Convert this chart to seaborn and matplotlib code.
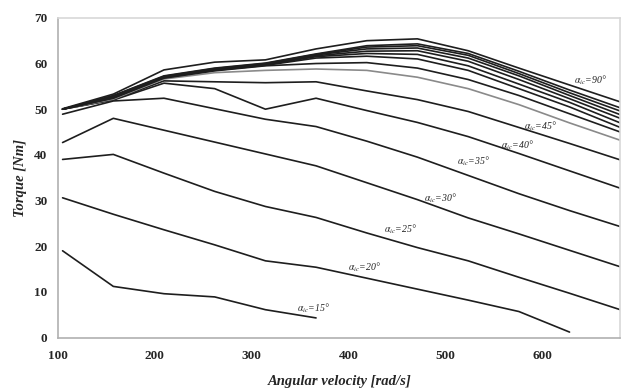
import numpy as np
import pandas as pd
import matplotlib
matplotlib.use("Agg")
import matplotlib.pyplot as plt
import seaborn as sns

# Angular velocity points [rad/s] (1000..6500 rpm)
omega = [104.7, 157.1, 209.4, 261.8, 314.2, 366.5, 418.9, 471.2, 523.6, 576.0, 628.3, 680.7]

t15 = [19.0, 11.2, 9.6, 8.9, 6.1, 4.3]
t20 = [30.6, 27.0, 23.6, 20.3, 16.8, 15.4, 13.0, 10.6, 8.2, 5.7, 1.2]
t25 = [39.0, 40.1, 36.0, 32.0, 28.7, 26.3, 22.9, 19.7, 16.8, 13.2, 9.7, 6.1]
t30 = [42.7, 48.0, 45.4, 42.8, 40.2, 37.6, 33.9, 30.2, 26.2, 22.7, 19.1, 15.5]
t35 = [48.9, 51.8, 52.4, 50.1, 47.8, 46.2, 43.0, 39.5, 35.5, 31.5, 27.8, 24.3]
t40 = [50.0, 52.0, 55.7, 54.5, 50.0, 52.4, 49.7, 47.1, 44.0, 40.3, 36.5, 32.7]
t45 = [50.0, 52.1, 56.2, 56.0, 55.8, 56.0, 54.0, 52.1, 49.5, 46.0, 42.5, 38.9]
t50 = [50.0, 52.2, 56.6, 58.0, 58.5, 58.8, 58.5, 57.0, 54.5, 51.0, 47.0, 43.2]
t55 = [50.0, 52.4, 56.8, 58.4, 59.5, 60.0, 60.2, 59.0, 56.5, 53.0, 49.0, 45.0]
t60 = [50.0, 52.5, 56.9, 58.5, 59.6, 61.2, 61.6, 61.0, 58.5, 54.5, 50.5, 46.0]
t65 = [50.0, 52.6, 57.0, 58.6, 59.7, 61.5, 62.2, 62.0, 59.5, 55.5, 51.5, 47.0]
t70 = [50.0, 52.7, 57.0, 58.7, 59.8, 61.7, 62.7, 62.8, 60.5, 56.5, 52.3, 48.0]
t75 = [50.0, 52.8, 57.1, 58.8, 59.9, 61.9, 63.2, 63.4, 61.2, 57.3, 53.0, 48.8]
t80 = [50.0, 52.9, 57.2, 58.9, 60.0, 62.0, 63.6, 63.9, 61.8, 57.8, 53.6, 49.6]
t85 = [50.0, 53.0, 57.3, 59.0, 60.1, 62.1, 63.9, 64.3, 62.2, 58.3, 54.2, 50.3]
t90 = [50.1, 53.3, 58.6, 60.3, 60.8, 63.2, 65.0, 65.4, 62.8, 59.0, 55.3, 51.6]

angles = [15, 20, 25, 30, 35, 40, 45, 50, 55, 60, 65, 70, 75, 80, 85, 90]
series = [t15, t20, t25, t30, t35, t40, t45, t50, t55, t60, t65, t70, t75, t80, t85, t90]

labelled = [15, 20, 25, 30, 35, 40, 45, 90]
label_x = [347, 399, 437, 478, 512, 558, 581, 633]
label_y = [6.5, 15.4, 23.8, 30.6, 38.6, 42.0, 46.3, 56.4]

xticks = [100, 200, 300, 400, 500, 600]
yticks = [0, 10, 20, 30, 40, 50, 60, 70]

rows = []
for a, s in zip(angles, series):
    for w, t in zip(omega, s):
        rows.append({"omega": w, "torque": t, "angle": a})
df = pd.DataFrame(rows)

sns.set_theme(style="white")
plt.rcParams["font.family"] = ["Liberation Serif", "DejaVu Serif"]
plt.rcParams["mathtext.fontset"] = "stix"

fig = plt.figure(figsize=(6.24, 3.88), dpi=100)
ax = fig.add_axes([0.093, 0.130, 0.901, 0.824])

palette = {a: ("#8a8a8a" if a == 50 else "#1e1e1e") for a in angles}
sns.lineplot(data=df, x="omega", y="torque", hue="angle", palette=palette,
             legend=False, ax=ax, linewidth=1.2, estimator=None, sort=False)

for a, lx, ly in zip(labelled, label_x, label_y):
    ax.text(lx, ly, r"$\alpha_{ic}$=" + f"{a}°", fontsize=7, style="italic",
            ha="left", va="center", color="#222222")

ax.set_xlim(100, 680.7)
ax.set_ylim(0, 70)
ax.set_xticks(xticks)
ax.set_xticklabels([str(v) for v in xticks], fontweight="bold", fontsize=9.5)
ax.set_yticks(yticks)
ax.set_yticklabels([str(v) for v in yticks], fontweight="bold", fontsize=9.5)
ax.set_xticks([200, 400, 600], minor=True)
ax.tick_params(axis="x", which="major", length=0, pad=9)
ax.tick_params(axis="x", which="minor", length=6, direction="inout", color="#b0b0b0", width=1)
ax.tick_params(axis="y", which="major", length=5, direction="inout", color="#b0b0b0", width=1, pad=5)

for side in ["left", "bottom"]:
    ax.spines[side].set_color("#b0b0b0")
    ax.spines[side].set_linewidth(1.2)
for side in ["top", "right"]:
    ax.spines[side].set_color("#d8d8d8")
    ax.spines[side].set_linewidth(1.2)

ax.set_xlabel("Angular velocity [rad/s]", fontsize=10.5, fontweight="bold", style="italic", labelpad=9)
ax.set_ylabel("Torque [Nm]", fontsize=10.5, fontweight="bold", style="italic", labelpad=5)

fig.savefig("out.png", dpi=100)
